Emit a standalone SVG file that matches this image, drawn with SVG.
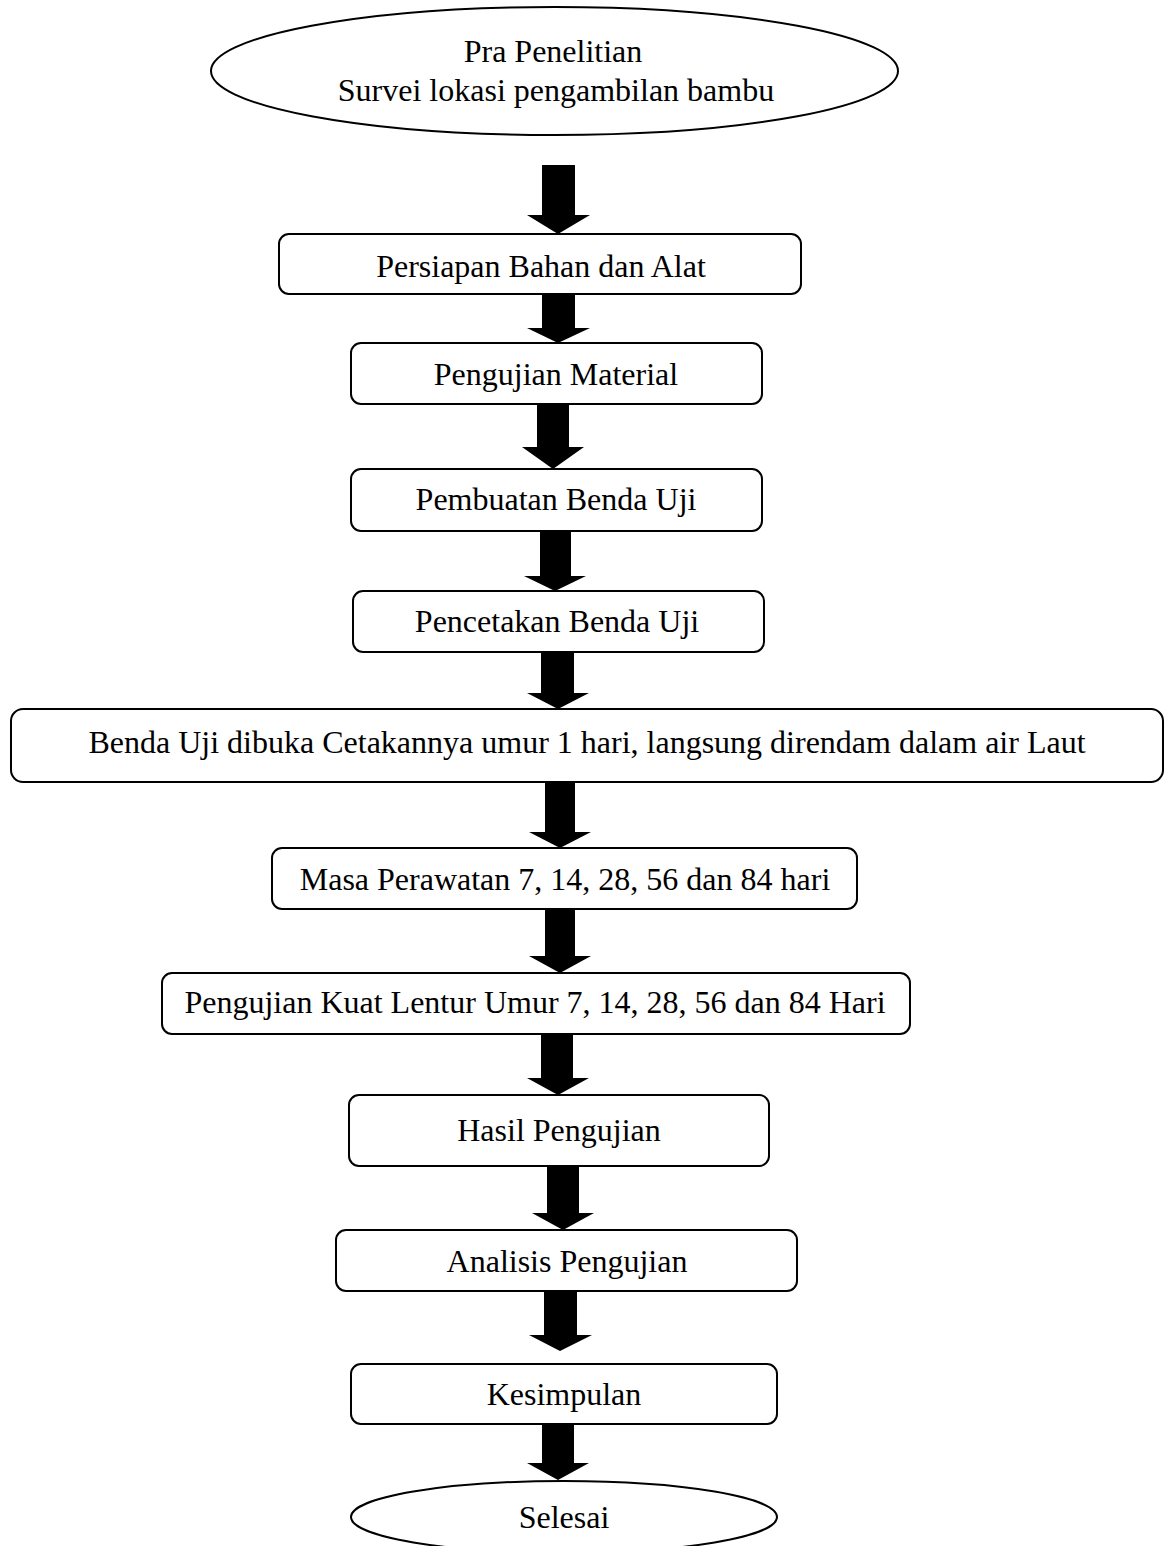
<svg xmlns="http://www.w3.org/2000/svg" width="1167" height="1546" viewBox="0 0 1167 1546">
<style>
.n{fill:#fff;stroke:#000;stroke-width:2}
.t{font-family:"Liberation Serif","Times New Roman",serif;font-size:32px;fill:#000;text-anchor:middle}
.a{fill:#000;stroke:none}
</style>
<rect width="1167" height="1546" fill="#fff"/>
<g id="connectors">
<polygon class="a" points="542,165 575,165 575,215 590,215 558,234 527,215 542,215"/>
<polygon class="a" points="542,294 575,294 575,328 590,328 558,343 527,328 542,328"/>
<polygon class="a" points="537,404 569,404 569,447 584,447 553,469 522,447 537,447"/>
<polygon class="a" points="540,531 571,531 571,576 586,576 555,591 524,576 540,576"/>
<polygon class="a" points="541,652 574,652 574,693 589,693 558,709 527,693 541,693"/>
<polygon class="a" points="545,782 575,782 575,832 591,832 560,848 529,832 545,832"/>
<polygon class="a" points="545,909 575,909 575,956 591,956 560,973 529,956 545,956"/>
<polygon class="a" points="541,1034 573,1034 573,1078 589,1078 558,1095 527,1078 541,1078"/>
<polygon class="a" points="547,1166 579,1166 579,1213 594,1213 563,1230 532,1213 547,1213"/>
<polygon class="a" points="544,1291 577,1291 577,1335 592,1335 560,1351 529,1335 544,1335"/>
<polygon class="a" points="542,1424 574,1424 574,1463 589,1463 558,1480 527,1463 542,1463"/>
</g>
<g id="start">
<ellipse class="n" cx="554.5" cy="71" rx="343.5" ry="64"/>
<text class="t" x="553" y="62">Pra Penelitian</text>
<text class="t" x="556" y="101">Survei lokasi pengambilan bambu</text>
</g>
<g id="persiapan">
<rect class="n" x="279" y="234" width="522" height="60" rx="10"/>
<text class="t" x="541" y="277">Persiapan Bahan dan Alat</text>
</g>
<g id="pengujian-material">
<rect class="n" x="351" y="343" width="411" height="61" rx="10"/>
<text class="t" x="556" y="385">Pengujian Material</text>
</g>
<g id="pembuatan">
<rect class="n" x="351" y="469" width="411" height="62" rx="10"/>
<text class="t" x="556" y="510">Pembuatan Benda Uji</text>
</g>
<g id="pencetakan">
<rect class="n" x="353" y="591" width="411" height="61" rx="10"/>
<text class="t" x="557" y="632">Pencetakan Benda Uji</text>
</g>
<g id="dibuka">
<rect class="n" x="11" y="709" width="1152" height="73" rx="12"/>
<text class="t" x="587" y="753">Benda Uji dibuka Cetakannya umur 1 hari, langsung direndam dalam air Laut</text>
</g>
<g id="perawatan">
<rect class="n" x="272" y="848" width="585" height="61" rx="10"/>
<text class="t" x="565" y="890">Masa Perawatan 7, 14, 28, 56 dan 84 hari</text>
</g>
<g id="kuat-lentur">
<rect class="n" x="162" y="973" width="748" height="61" rx="10"/>
<text class="t" x="535" y="1013">Pengujian Kuat Lentur Umur 7, 14, 28, 56 dan 84 Hari</text>
</g>
<g id="hasil">
<rect class="n" x="349" y="1095" width="420" height="71" rx="10"/>
<text class="t" x="559" y="1141">Hasil Pengujian</text>
</g>
<g id="analisis">
<rect class="n" x="336" y="1230" width="461" height="61" rx="10"/>
<text class="t" x="567" y="1272">Analisis Pengujian</text>
</g>
<g id="kesimpulan">
<rect class="n" x="351" y="1364" width="426" height="60" rx="10"/>
<text class="t" x="564" y="1405">Kesimpulan</text>
</g>
<g id="selesai">
<ellipse class="n" cx="564" cy="1517" rx="213" ry="36"/>
<text class="t" x="564" y="1528">Selesai</text>
</g>
</svg>
